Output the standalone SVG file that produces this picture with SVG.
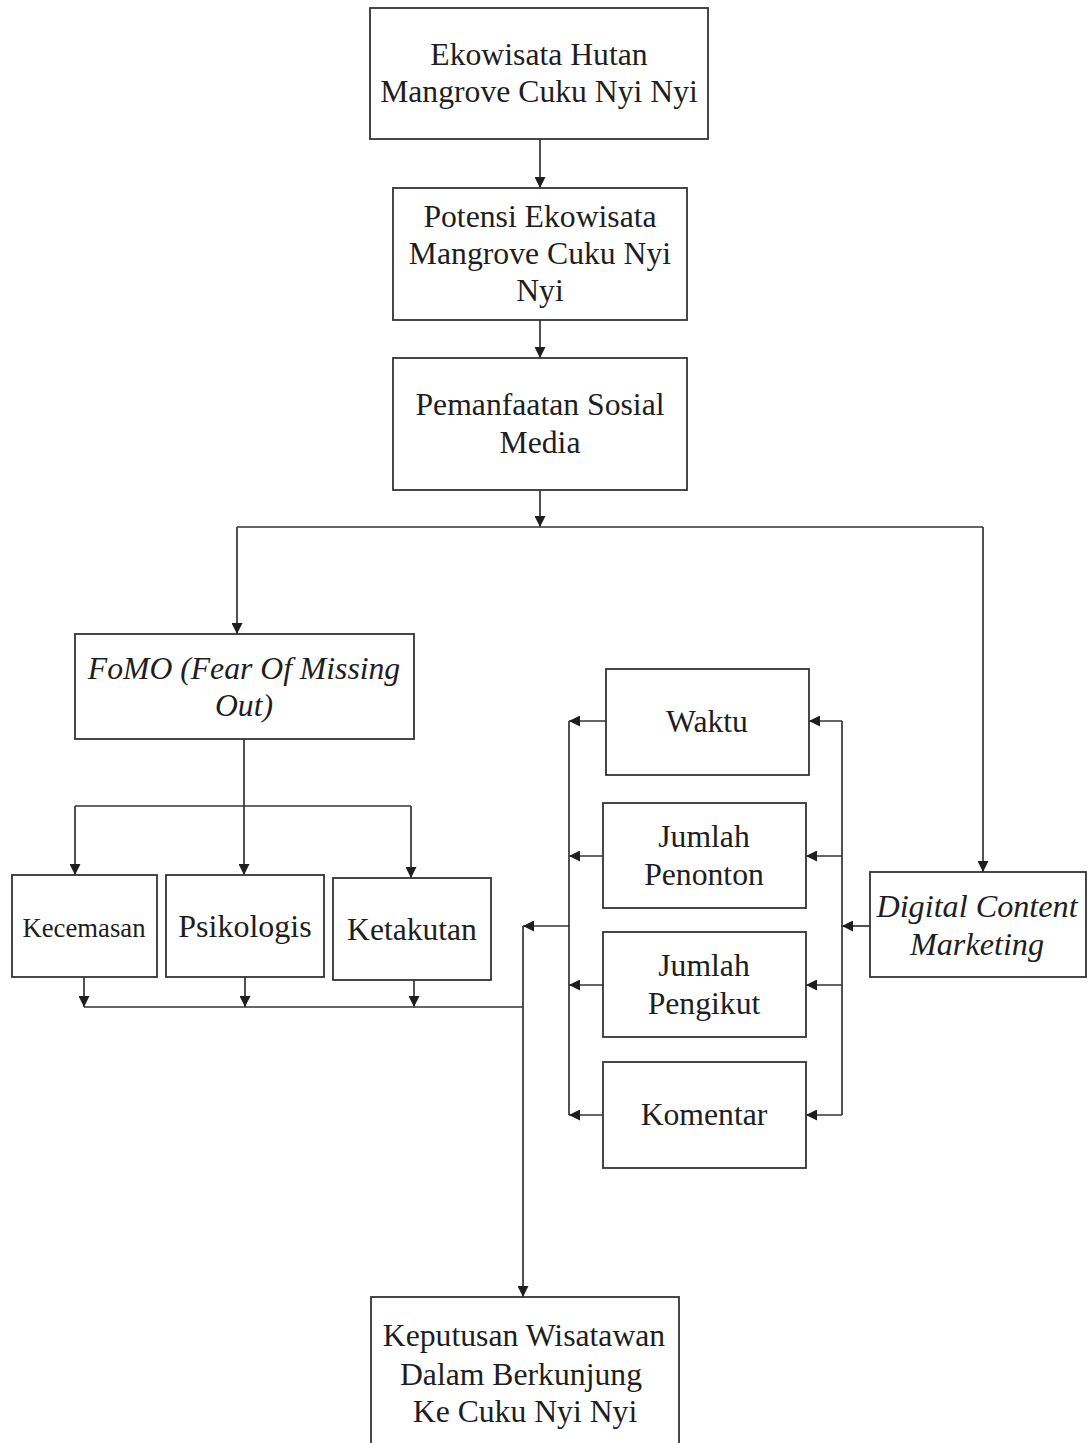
<svg xmlns="http://www.w3.org/2000/svg" width="1088" height="1443" viewBox="0 0 1088 1443">
<style>
.box{fill:#fff;stroke:#333;stroke-width:1.8}
.t{font-family:"Liberation Serif","Times New Roman",serif;font-size:31.7px;fill:#1e1e1e;text-anchor:middle}
.i{font-style:italic}
.c{fill:none;stroke:#333;stroke-width:1.7}
</style>
<defs>
<marker id="ah" markerUnits="userSpaceOnUse" markerWidth="12" markerHeight="11" viewBox="0 0 12 11" refX="11" refY="5.5" orient="auto">
<path d="M0,0 L11,5.5 L0,11 Z" fill="#1e1e1e"/>
</marker>
</defs>
<rect width="1088" height="1443" fill="#fff"/>
<g id="connectors">
<path class="c" d="M540,139 V188" marker-end="url(#ah)"/>
<path class="c" d="M540,320 V358" marker-end="url(#ah)"/>
<path class="c" d="M540,490 V527" marker-end="url(#ah)"/>
<path class="c" d="M237,527 H983"/>
<path class="c" d="M237,527 V634" marker-end="url(#ah)"/>
<path class="c" d="M983,527 V872" marker-end="url(#ah)"/>
<path class="c" d="M244,739 V875" marker-end="url(#ah)"/>
<path class="c" d="M75,806 H411"/>
<path class="c" d="M75,806 V875" marker-end="url(#ah)"/>
<path class="c" d="M411,806 V878" marker-end="url(#ah)"/>
<path class="c" d="M84,977 V1007" marker-end="url(#ah)"/>
<path class="c" d="M245,977 V1007" marker-end="url(#ah)"/>
<path class="c" d="M414,980 V1007" marker-end="url(#ah)"/>
<path class="c" d="M84,1007 H523"/>
<path class="c" d="M523,926 V1297" marker-end="url(#ah)"/>
<path class="c" d="M569,926 H523" marker-end="url(#ah)"/>
<path class="c" d="M569,721 V1115"/>
<path class="c" d="M606,721 H569" marker-end="url(#ah)"/>
<path class="c" d="M603,856 H569" marker-end="url(#ah)"/>
<path class="c" d="M603,985 H569" marker-end="url(#ah)"/>
<path class="c" d="M603,1115 H569" marker-end="url(#ah)"/>
<path class="c" d="M842,721 V1115"/>
<path class="c" d="M842,721 H809" marker-end="url(#ah)"/>
<path class="c" d="M842,856 H806" marker-end="url(#ah)"/>
<path class="c" d="M842,985 H806" marker-end="url(#ah)"/>
<path class="c" d="M842,1115 H806" marker-end="url(#ah)"/>
<path class="c" d="M870,926 H842" marker-end="url(#ah)"/>
</g>
<g id="ekowisata">
<rect class="box" x="370" y="8" width="338" height="131"/>
<text class="t" x="539" y="65">Ekowisata Hutan</text>
<text class="t" x="539" y="102">Mangrove Cuku Nyi Nyi</text>
</g>
<g id="potensi">
<rect class="box" x="393" y="188" width="294" height="132"/>
<text class="t" x="540" y="227">Potensi Ekowisata</text>
<text class="t" x="540" y="264">Mangrove Cuku Nyi</text>
<text class="t" x="540" y="301">Nyi</text>
</g>
<g id="pemanfaatan">
<rect class="box" x="393" y="358" width="294" height="132"/>
<text class="t" x="540" y="415">Pemanfaatan Sosial</text>
<text class="t" x="540" y="453">Media</text>
</g>
<g id="fomo">
<rect class="box" x="75" y="634" width="339" height="105"/>
<text class="t i" x="244" y="679">FoMO (Fear Of Missing</text>
<text class="t i" x="244" y="716">Out)</text>
</g>
<g id="kecemasan">
<rect class="box" x="12" y="875" width="145" height="102"/>
<text class="t" x="84" y="937" style="font-size:26.7px">Kecemasan</text>
</g>
<g id="psikologis">
<rect class="box" x="166" y="875" width="158" height="102"/>
<text class="t" x="245" y="937" style="font-size:32px">Psikologis</text>
</g>
<g id="ketakutan">
<rect class="box" x="333" y="878" width="158" height="102"/>
<text class="t" x="412" y="940" style="font-size:31.6px">Ketakutan</text>
</g>
<g id="waktu">
<rect class="box" x="606" y="669" width="203" height="106"/>
<text class="t" x="707" y="732">Waktu</text>
</g>
<g id="penonton">
<rect class="box" x="603" y="803" width="203" height="105"/>
<text class="t" x="704" y="847">Jumlah</text>
<text class="t" x="704" y="885">Penonton</text>
</g>
<g id="pengikut">
<rect class="box" x="603" y="932" width="203" height="105"/>
<text class="t" x="704" y="976">Jumlah</text>
<text class="t" x="704" y="1014">Pengikut</text>
</g>
<g id="komentar">
<rect class="box" x="603" y="1062" width="203" height="106"/>
<text class="t" x="704" y="1125">Komentar</text>
</g>
<g id="digital">
<rect class="box" x="870" y="872" width="216" height="105"/>
<text class="t i" x="977" y="917" style="font-size:32.2px">Digital Content</text>
<text class="t i" x="977" y="955" style="font-size:32.2px">Marketing</text>
</g>
<g id="keputusan">
<rect class="box" x="371" y="1297" width="308" height="152"/>
<text class="t" x="524" y="1346">Keputusan Wisatawan</text>
<text class="t" x="521" y="1385">Dalam Berkunjung</text>
<text class="t" x="525" y="1422">Ke Cuku Nyi Nyi</text>
</g>
</svg>
